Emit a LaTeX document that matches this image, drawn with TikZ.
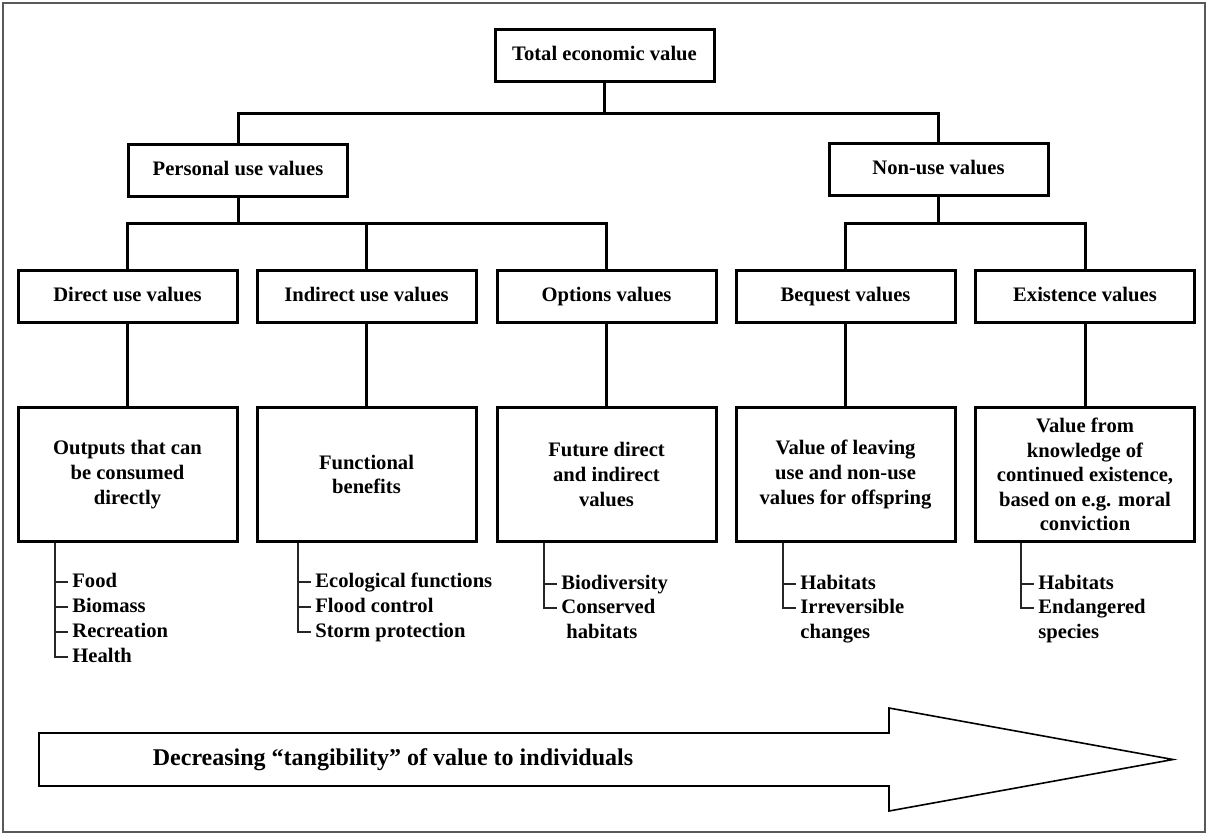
\documentclass[tikz,border=0pt]{standalone}
\usepackage{fontspec}
\setmainfont{Liberation Serif}
\usepackage{tikz}

\tikzset{
  boxbase/.style={draw, line width=1.5pt, minimum width=109.5pt, inner sep=0pt,
    align=center, font=\bfseries\fontsize{10.3}{12.3}\selectfont},
  valbox/.style={boxbase, minimum height=26pt, text height=7pt, text depth=2pt},
  descbox/.style={boxbase, minimum height=67pt},
  link/.style={line width=1.5pt},
  brack/.style={line width=0.8pt, black!85},
  listitem/.style={anchor=west, inner xsep=2pt, inner ysep=0pt, text height=7pt,
    text depth=2pt, font=\bfseries\fontsize{10.3}{12.3}\selectfont},
}

\begin{document}
\begin{tikzpicture}[x=0.5pt, y=-0.5pt]
    \useasboundingbox (0,0) rectangle (1208,835);
    \draw[black!65, line width=0.8pt] (3,3) rectangle (1205,832);

    % Value tree
    \node[valbox] (tev) at (604.5,55) {Total economic value};
    \node[valbox] (pers) at (238,170) {Personal use values};
    \node[valbox] (non) at (938.5,169) {Non-use values};

    \node[valbox] (dir) at (127.5,296) {Direct use values};
    \node[valbox] (ind) at (366.5,296) {Indirect use values};
    \node[valbox] (opt) at (606.5,296) {Options values};
    \node[valbox] (beq) at (845.5,296) {Bequest values};
    \node[valbox] (exi) at (1085,296) {Existence values};

    \node[descbox] (outd) at (127.5,474.5) {Outputs that can\\be consumed\\directly};
    \node[descbox] (outi) at (366.5,474.5) {Functional\\benefits};
    \node[descbox] (outo) at (606.5,474.5) {Future direct\\and indirect\\values};
    \node[descbox] (outb) at (845.5,474.5) {Value of leaving\\use and non-use\\values for offspring};
    \node[descbox] (oute) at (1085,474.5) {Value from\\knowledge of\\continued existence,\\based on e.g. moral\\conviction};

    % Junctions
    \coordinate (j0) at (604.5,113);
    \coordinate (j1) at (238,223);
    \coordinate (j2) at (938.5,223);

    \draw[link] (tev.south) -- (j0);
    \draw[link] (pers.north) |- (j0) -| (non.north);
    \draw[link] (pers.south) -- (j1);
    \draw[link] (dir.north) |- (j1) -| (opt.north);
    \draw[link] (ind.north) -- (ind.north |- j1);
    \draw[link] (non.south) -- (j2);
    \draw[link] (beq.north) |- (j2) -| (exi.north);
    \foreach \a/\b in {dir/outd, ind/outi, opt/outo, beq/outb, exi/oute}
        \draw[link] (\a.south) -- (\b.north);

    % Examples under each box
    \node[listitem] (d1) at (68,582) {Food};
    \node[listitem] (d2) at (68,607) {Biomass};
    \node[listitem] (d3) at (68,632) {Recreation};
    \node[listitem] (d4) at (68,657) {Health};
    \coordinate (bd) at (55,541);
    \draw[brack] (outd.south -| bd) |- (d4.west);
    \foreach \n in {d1,d2,d3} \draw[brack] (\n.west -| bd) -- (\n.west);

    \node[listitem] (i1) at (311,582) {Ecological functions};
    \node[listitem] (i2) at (311,607) {Flood control};
    \node[listitem] (i3) at (311,632) {Storm protection};
    \coordinate (bi) at (298,541);
    \draw[brack] (outi.south -| bi) |- (i3.west);
    \foreach \n in {i1,i2} \draw[brack] (\n.west -| bi) -- (\n.west);

    \node[listitem] (o1) at (557,584) {Biodiversity};
    \node[listitem] (o2) at (557,608) {Conserved};
    \node[listitem] (o2b) at (562,633) {habitats};
    \coordinate (bo) at (544,541);
    \draw[brack] (outo.south -| bo) |- (o2.west);
    \draw[brack] (o1.west -| bo) -- (o1.west);

    \node[listitem] (b1) at (796,584) {Habitats};
    \node[listitem] (b2) at (796,608) {Irreversible};
    \node[listitem] (b2b) at (796,633) {changes};
    \coordinate (bb) at (783,541);
    \draw[brack] (outb.south -| bb) |- (b2.west);
    \draw[brack] (b1.west -| bb) -- (b1.west);

    \node[listitem] (e1) at (1034,584) {Habitats};
    \node[listitem] (e2) at (1034,608) {Endangered};
    \node[listitem] (e2b) at (1034,633) {species};
    \coordinate (be) at (1021,541);
    \draw[brack] (oute.south -| be) |- (e2.west);
    \draw[brack] (e1.west -| be) -- (e1.west);

    % Big arrow
    \draw[line width=0.8pt] (39,733) -- (889,733) -- (889,708) -- (1173,759.5)
        -- (889,811) -- (889,786) -- (39,786) -- cycle;
    \node[font=\bfseries\fontsize{12}{14}\selectfont] (tang) at (393,760)
        {Decreasing “tangibility” of value to individuals};
\end{tikzpicture}
\end{document}
